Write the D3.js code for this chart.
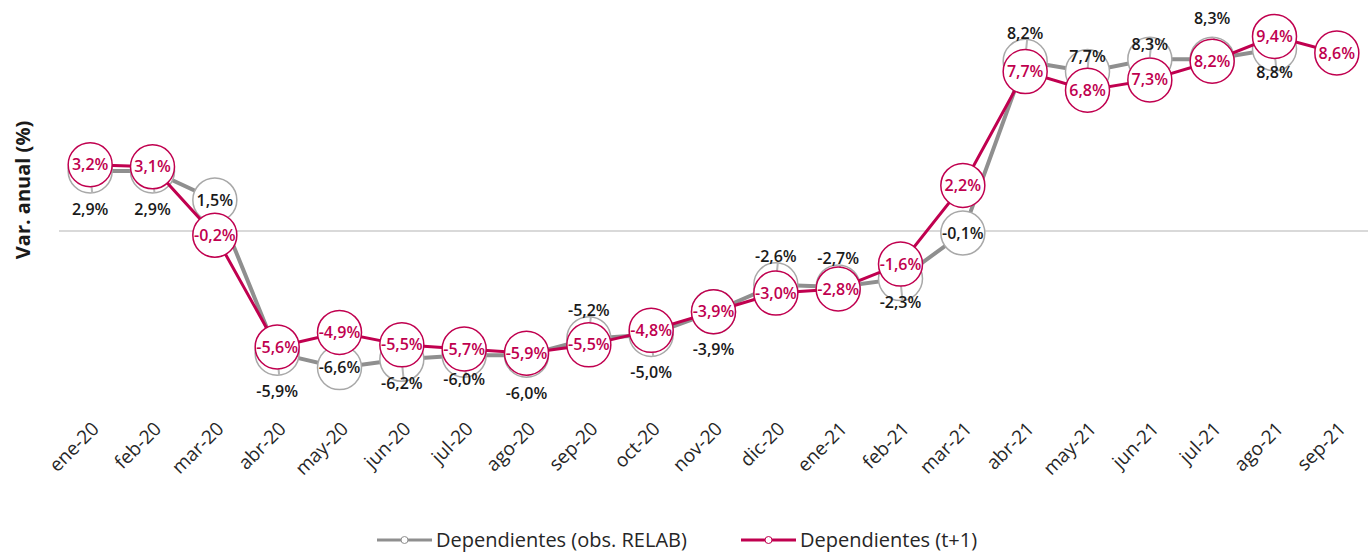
<!DOCTYPE html>
<html>
<head>
<meta charset="utf-8">
<script src="https://cdn.jsdelivr.net/npm/d3@7"></script>
<style>
  body { margin: 0; background: #fff; }
  svg text { font-family: "Open Sans", "Noto Sans", sans-serif; }
</style>
</head>
<body>
<svg id="chart" width="1371" height="552"></svg>
<script>
// months shown on the x axis
var months = ["ene-20","feb-20","mar-20","abr-20","may-20","jun-20","jul-20","ago-20","sep-20","oct-20","nov-20","dic-20",
              "ene-21","feb-21","mar-21","abr-21","may-21","jun-21","jul-21","ago-21","sep-21"];

// Dependientes (obs. RELAB) - no value for sep-21
var obsRelab = [2.9, 2.9, 1.5, -5.9, -6.6, -6.2, -6.0, -6.0, -5.2, -5.0, -3.9, -2.6,
                -2.7, -2.3, -0.1, 8.2, 7.7, 8.3, 8.3, 8.8, null];
// where the grey label sits relative to its point
var obsLabelPos = ["below","below","center","below","center","down","down","below","above","below","below","above",
                   "above","down","center","above","up","up","high","down", null];

// Dependientes (t+1)
var tPlus1 = [3.2, 3.1, -0.2, -5.6, -4.9, -5.5, -5.7, -5.9, -5.5, -4.8, -3.9, -3.0,
              -2.8, -1.6, 2.2, 7.7, 6.8, 7.3, 8.2, 9.4, 8.6];

var seriesNames = ["Dependientes (obs. RELAB)", "Dependientes (t+1)"];

var fmt = function(v) { return v.toFixed(1).replace(".", ",") + "%"; };

var red = "#c0004f", greyLine = "#8f8f8f", greyCircle = "#a8a8a8";
var R = 22;

var svg = d3.select("#chart");

var x = d3.scaleBand().domain(months).range([59, 1368]).padding(0);
var y = d3.scaleLinear().domain([-10, 10]).range([438, 24]);
var cx = function(m) { return x(m) + x.bandwidth() / 2; };

// zero line
svg.append("line")
  .attr("x1", 59).attr("x2", 1368)
  .attr("y1", y(0)).attr("y2", y(0))
  .attr("stroke", "#d9d9d9").attr("stroke-width", 2);

// y axis title
svg.append("text")
  .attr("transform", "translate(30,190) rotate(-90)")
  .attr("text-anchor", "middle")
  .style("font-size", "20px").style("font-weight", "700").attr("fill", "#1a1a1a")
  .text("Var. anual (%)");

// x axis labels
var xAxis = d3.axisBottom(x).tickSize(0).tickPadding(0);
var gx = svg.append("g").attr("transform", "translate(0,410)").call(xAxis);
gx.select(".domain").remove();
gx.selectAll("text")
  .style("font-size", "19px").attr("fill", "#262626")
  .style("text-anchor", "end")
  .attr("dy", "0").attr("y", 0)
  .attr("transform", "translate(10,20) rotate(-45)");

var obsData = months.map(function(m, i) { return {m: m, v: obsRelab[i], pos: obsLabelPos[i]}; })
  .filter(function(d) { return d.v !== null; });
var tData = months.map(function(m, i) { return {m: m, v: tPlus1[i]}; });

var line = d3.line().x(function(d) { return cx(d.m); }).y(function(d) { return y(d.v); });

// grey series
svg.append("path").datum(obsData)
  .attr("d", line).attr("fill", "none")
  .attr("stroke", greyLine).attr("stroke-width", 4);

var offs = {below: 38, down: 24, above: -28, up: -15, high: -41, center: 0};

svg.selectAll(".obs-circ").data(obsData).enter().append("circle")
  .attr("class", "obs-circ")
  .attr("cx", function(d) { return cx(d.m); })
  .attr("cy", function(d) { return y(d.v); })
  .attr("r", R).attr("fill", "#fff")
  .attr("stroke", greyCircle).attr("stroke-width", 1.5);

// leader lines inside grey circles
svg.selectAll(".obs-lead").data(obsData.filter(function(d) { return d.pos !== "center"; })).enter().append("line")
  .attr("class", "obs-lead")
  .attr("x1", function(d) { return cx(d.m); })
  .attr("x2", function(d) { return cx(d.m) + 2; })
  .attr("y1", function(d) { return y(d.v) + (offs[d.pos] > 0 ? 2 : -2); })
  .attr("y2", function(d) { return y(d.v) + (offs[d.pos] > 0 ? R : -R); })
  .attr("stroke", "#b5b5b5").attr("stroke-width", 2);

svg.selectAll(".obs-lab").data(obsData).enter().append("text")
  .attr("class", "obs-lab")
  .attr("x", function(d) { return cx(d.m); })
  .attr("y", function(d) { return y(d.v) + offs[d.pos]; })
  .attr("dy", "0.35em").attr("text-anchor", "middle")
  .style("font-size", "16px").style("font-weight", "600").attr("fill", "#1a1a1a")
  .text(function(d) { return fmt(d.v); });

// red series
svg.append("path").datum(tData)
  .attr("d", line).attr("fill", "none")
  .attr("stroke", red).attr("stroke-width", 3);

svg.selectAll(".t-circ").data(tData).enter().append("circle")
  .attr("class", "t-circ")
  .attr("cx", function(d) { return cx(d.m); })
  .attr("cy", function(d) { return y(d.v); })
  .attr("r", R).attr("fill", "#fff")
  .attr("stroke", red).attr("stroke-width", 1.5);

svg.selectAll(".t-lab").data(tData).enter().append("text")
  .attr("class", "t-lab")
  .attr("x", function(d) { return cx(d.m); })
  .attr("y", function(d) { return y(d.v); })
  .attr("dy", "0.35em").attr("text-anchor", "middle")
  .style("font-size", "16px").style("font-weight", "600").attr("fill", red)
  .text(function(d) { return fmt(d.v); });

// legend
var legend = [
  {name: seriesNames[0], color: greyLine, x: 377},
  {name: seriesNames[1], color: red, x: 741}
];
var lg = svg.selectAll(".leg").data(legend).enter().append("g")
  .attr("class", "leg")
  .attr("transform", function(d) { return "translate(" + d.x + ",540)"; });
lg.append("line").attr("x1", 0).attr("x2", 55).attr("y1", 0).attr("y2", 0)
  .attr("stroke", function(d) { return d.color; }).attr("stroke-width", 3);
lg.append("circle").attr("cx", 27.5).attr("cy", 0).attr("r", 3.5)
  .attr("fill", "#fff").attr("stroke", function(d) { return d.color; }).attr("stroke-width", 1);
lg.append("text").attr("x", 59).attr("y", 0).attr("dy", "0.35em")
  .style("font-size", "20px").attr("fill", "#262626")
  .text(function(d) { return d.name; });
</script>
</body>
</html>
